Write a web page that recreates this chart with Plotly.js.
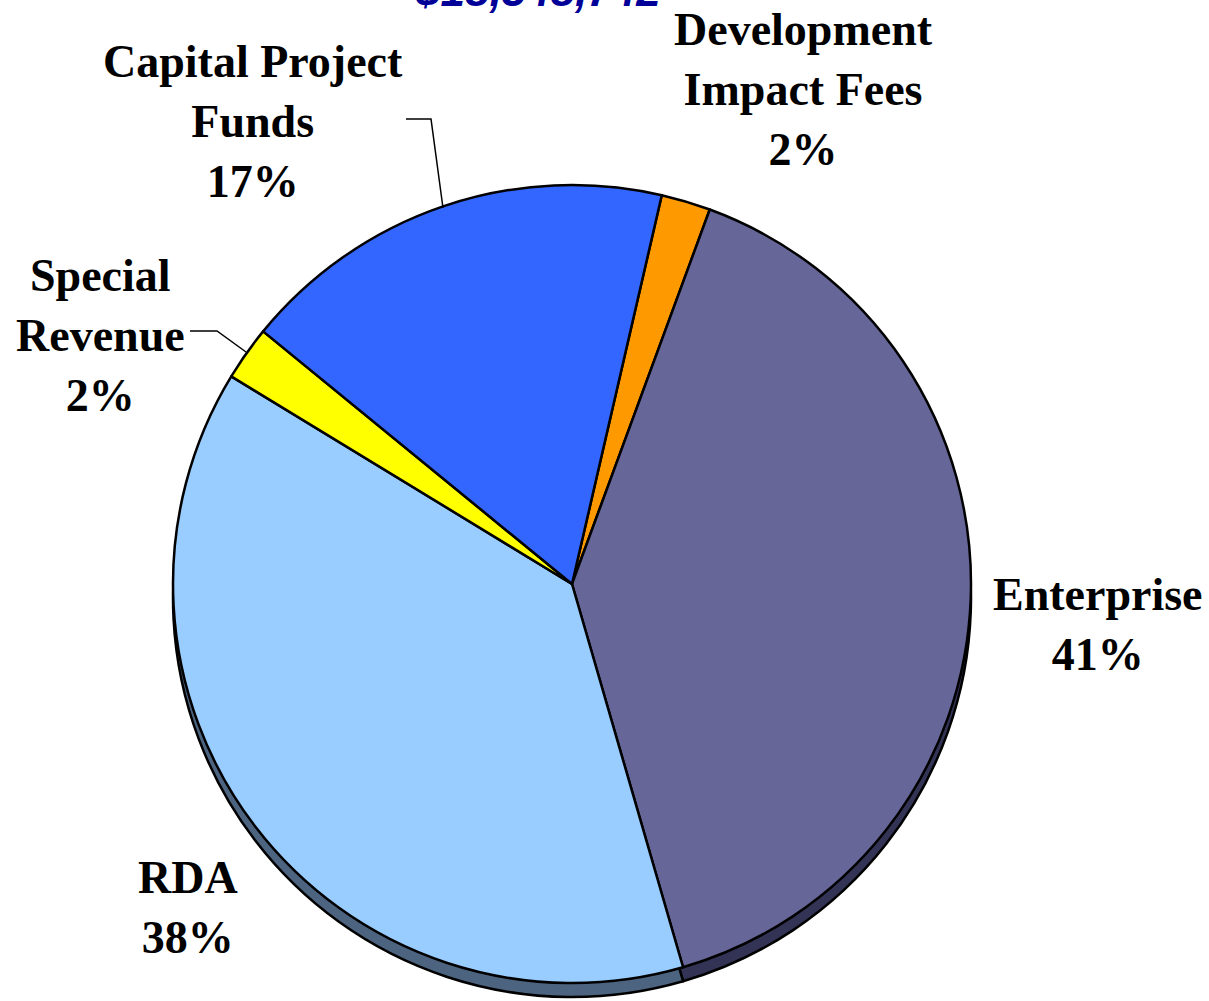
<!DOCTYPE html>
<html>
<head>
<meta charset="utf-8">
<script src="https://cdn.plot.ly/plotly-3.0.1.min.js"></script>
<style>html,body{margin:0;padding:0;background:#fff;}#chart{width:1209px;height:1001px;}</style>
</head>
<body>
<div id="chart"></div>
<script>
// ---- data ----
const categories = ['Development Impact Fees', 'Enterprise', 'RDA', 'Special Revenue', 'Capital Project Funds'];
const displayNames = ['Development<br>Impact Fees', 'Enterprise', 'RDA', 'Special<br>Revenue', 'Capital Project<br>Funds'];
const shares = [2.0, 39.9, 38.2, 2.2, 17.7];
const pctLabels = ['2%', '41%', '38%', '2%', '17%'];
const sliceColors = ['#ff9900', '#666699', '#99ccff', '#ffff00', '#3366ff'];
const shadowColors = ['#7f4c00', '#333355', '#4d6480', '#808000', '#1a3380'];
const totalText = '$18,348,742';

// ---- layout helpers (pixel -> paper) ----
const W = 1209, H = 1001;
const px = x => x / W;
const py = y => 1 - y / H;

const cx = 572, cy = 584, r = 399, depth = 14;

const shadow = {
  type: 'pie', values: shares, labels: categories, sort: false,
  direction: 'clockwise', rotation: 13,
  marker: {colors: shadowColors, line: {color: '#000', width: 2.5}},
  textinfo: 'none', hoverinfo: 'skip', showlegend: false,
  domain: {x: [px(cx - r), px(cx + r)], y: [py(cy + depth + r), py(cy + depth - r)]}
};
const face = {
  type: 'pie', values: shares, labels: categories, sort: false,
  direction: 'clockwise', rotation: 13,
  marker: {colors: sliceColors, line: {color: '#000', width: 2.5}},
  textinfo: 'none', hoverinfo: 'label+percent', showlegend: false,
  domain: {x: [px(cx - r), px(cx + r)], y: [py(cy + r), py(cy - r)]}
};

const labelPos = [[803, 90], [1098, 624], [188, 907], [100, 335], [253, 122]];
const labelFont = {family: 'Liberation Serif, Times New Roman, serif', size: 46, color: '#000'};
const annotations = categories.map((c, i) => ({
  xref: 'paper', yref: 'paper', x: px(labelPos[i][0]), y: py(labelPos[i][1]),
  xanchor: 'center', yanchor: 'middle', showarrow: false, align: 'center',
  text: '<b>' + displayNames[i] + '<br>' + pctLabels[i] + '</b>', font: labelFont
}));
annotations.push({
  xref: 'paper', yref: 'paper', x: px(538), y: py(-9),
  xanchor: 'center', yanchor: 'middle', showarrow: false,
  text: '<b><i>' + totalText + '</i></b>',
  font: {family: 'Liberation Sans, Arial, sans-serif', size: 44, color: '#000099'}
});

const pathFrom = pts => pts.map((p, i) => (i ? 'L ' : 'M ') + px(p[0]) + ',' + py(p[1])).join(' ');
const shapes = [
  {type: 'path', xref: 'paper', yref: 'paper', path: pathFrom([[406, 119], [431, 119], [443, 208]]), line: {color: '#000', width: 1.5}},
  {type: 'path', xref: 'paper', yref: 'paper', path: pathFrom([[190, 331], [217, 331], [246, 352]]), line: {color: '#000', width: 1.5}}
];

const layout = {
  width: W, height: H, margin: {l: 0, r: 0, t: 0, b: 0},
  paper_bgcolor: '#fff', plot_bgcolor: '#fff', showlegend: false,
  annotations: annotations, shapes: shapes
};
Plotly.newPlot('chart', [shadow, face], layout, {displayModeBar: false, staticPlot: true});
</script>
</body>
</html>
